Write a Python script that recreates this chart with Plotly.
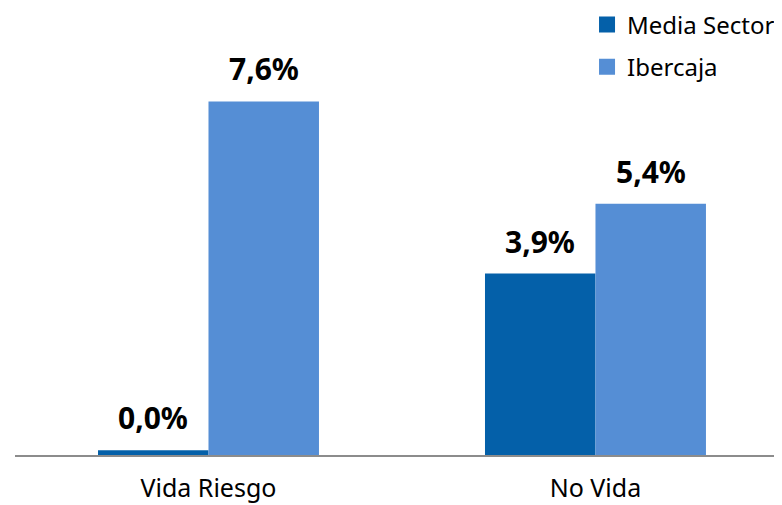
import plotly.graph_objects as go

categories = ["Vida Riesgo", "No Vida"]
media_sector = [0.1, 3.9]
ibercaja = [7.6, 5.4]
media_labels = ["0,0%", "3,9%"]
ibercaja_labels = ["7,6%", "5,4%"]

FONT = "Noto Sans"
C_MEDIA = "#0460A9"
C_IBER = "#558ED5"

fig = go.Figure()
fig.add_trace(go.Bar(
    x=categories, y=media_sector, name="Media Sector",
    marker=dict(color=C_MEDIA, line=dict(width=0)), showlegend=False,
))
fig.add_trace(go.Bar(
    x=categories, y=ibercaja, name="Ibercaja",
    marker=dict(color=C_IBER, line=dict(width=0)), showlegend=False,
))
# legend proxies (square markers)
for name, col, grp in [("Media Sector", C_MEDIA, "a"), ("Ibercaja", C_IBER, "b")]:
    fig.add_trace(go.Scatter(x=[None], y=[None], mode="markers", name=name,
                             marker=dict(symbol="square", size=16, color=col),
                             legendgroup=grp))

# data labels
BAR_PX = 110.5
for vals, labels, sgn in [(media_sector, media_labels, -1), (ibercaja, ibercaja_labels, 1)]:
    for c, v, t in zip(categories, vals, labels):
        fig.add_annotation(x=c, y=v, text=t, showarrow=False, xanchor="center",
                           yanchor="bottom", xshift=sgn * BAR_PX / 2, yshift=10,
                           font=dict(family=FONT, size=30, color="black", weight="bold"))

fig.update_layout(
    width=774, height=497,
    margin=dict(l=7, r=0, t=0, b=50, autoexpand=False),
    paper_bgcolor="white", plot_bgcolor="white",
    barmode="group", bargap=0.429, bargroupgap=0,
    font=dict(family=FONT, size=25, color="black"),
    showlegend=True,
    legend=dict(x=0.7458, xanchor="left", y=1.0123, yanchor="top",
                font=dict(family=FONT, size=24, color="black"),
                tracegroupgap=8, itemwidth=30, bgcolor="rgba(0,0,0,0)"),
    xaxis=dict(range=[-0.5, 1.482], showline=True, linecolor="#8c8c8c", linewidth=1.5,
               ticks="", showgrid=False, ticklabelstandoff=10, automargin=False,
               tickfont=dict(family=FONT, size=25, color="black")),
    yaxis=dict(range=[0, 9.61], visible=False, showgrid=False, automargin=False),
)

fig.write_html("out.html")
